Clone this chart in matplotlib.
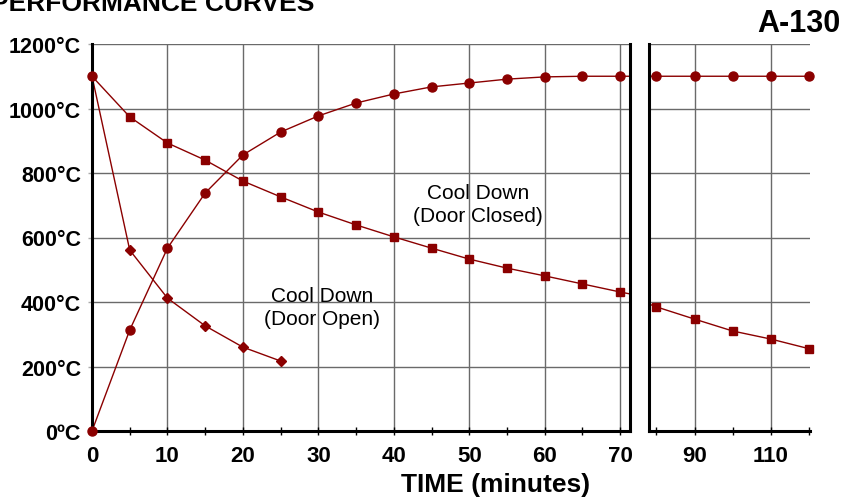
import numpy as np
import matplotlib.pyplot as plt

plt.rcParams['font.family'] = ['Liberation Sans', 'DejaVu Sans']

# readings
time = [0, 5, 10, 15, 20, 25, 30, 35, 40, 45, 50, 55, 60, 65, 70,
        80, 90, 100, 110, 120]
heat_up = [0, 313, 567, 738, 856, 927, 977, 1017, 1045, 1067, 1079, 1091,
           1098, 1100, 1100, 1100, 1100, 1100, 1100, 1100]
door_closed = [1100, 974, 893, 840, 775, 726, 679, 639, 602, 567, 533, 505,
               481, 456, 431, 385, 347, 310, 285, 255]
open_time = [0, 5, 10, 15, 20, 25]
door_open = [1100, 561, 412, 326, 260, 217]

y_ticks = [0, 200, 400, 600, 800, 1000, 1200]
y_labels = ['0ºC', '200°C', '400°C', '600°C', '800°C', '1000°C', '1200°C']

red = '#8b0000'
grid_c = '#6a6a6a'

fig = plt.figure(figsize=(8.46, 5.02), dpi=100)
ax1 = fig.add_axes([92 / 846, 70 / 502, 538 / 846, 387 / 502])
ax2 = fig.add_axes([649 / 846, 70 / 502, 161 / 846, 387 / 502])


def draw(ax, lo, hi):
    t = np.array(time)
    ax.plot(time, heat_up, color=red, lw=1, zorder=3)
    ax.plot(time, door_closed, color=red, lw=1, zorder=3)
    ax.plot(open_time, door_open, color=red, lw=1, zorder=3)
    ins = (t >= lo) & (t <= hi)
    hu = np.array(heat_up)
    dc = np.array(door_closed)
    ax.plot(t[ins], hu[ins], 'o', ms=6.5, color=red, clip_on=False, zorder=5)
    ins_c = ins.copy()
    ins_c[0] = False
    ax.plot(t[ins_c], dc[ins_c], 's', ms=5.8, color=red, clip_on=False, zorder=5)
    if ins[0]:
        ax.plot(t[:1], dc[:1], 'o', ms=6.5, color=red, clip_on=False, zorder=5)
        ax.plot(open_time[1:], door_open[1:], 'D', ms=5.5, color=red,
                clip_on=False, zorder=5)
    ax.set_xlim(lo, hi)
    ax.set_ylim(0, 1200)
    ax.set_yticks(y_ticks)
    ax.grid(True, which='major', color=grid_c, lw=1, zorder=1)
    ax.tick_params(axis='x', which='both', direction='inout', length=6,
                   width=1, color='black', labelsize=16, pad=7)
    ax.tick_params(axis='y', length=3, color='#aaaaaa', width=1)
    ax.spines['top'].set_visible(False)
    for s in ['left', 'bottom', 'right']:
        ax.spines[s].set_linewidth(2.2)
        ax.spines[s].set_zorder(4)


draw(ax1, 0, 71.3)
ax1.set_xticks(range(0, 71, 10))
ax1.set_xticks(range(5, 71, 10), minor=True)
ax1.set_xticklabels([str(v) for v in range(0, 71, 10)], fontweight='bold')
ax1.set_yticklabels(y_labels, fontsize=15.5, fontweight='bold')
ax1.tick_params(axis='y', pad=5)

draw(ax2, 78.1, 120.2)
ax2.set_xticks([90, 110])
ax2.set_xticks([80, 100, 120], minor=True)
ax2.set_xticklabels(['90', '110'], fontweight='bold')
ax2.set_yticklabels([])
ax2.tick_params(axis='y', length=0)
ax2.spines['right'].set_visible(False)

ax1.text(51.2, 703, 'Cool Down\n(Door Closed)', ha='center', va='center',
         fontsize=15, linespacing=1.25, zorder=6)
ax1.text(30.5, 384, 'Cool Down\n(Door Open)', ha='center', va='center',
         fontsize=15, linespacing=1.25, zorder=6)

fig.text(496 / 846, 1 - 485 / 502, 'TIME (minutes)', ha='center',
         va='center', fontsize=19, fontweight='bold')
fig.text(-9 / 846, 1 - 11 / 502, 'PERFORMANCE CURVES', ha='left',
         va='baseline', fontsize=19, fontweight='bold')
fig.text(840 / 846, 1 - 32 / 502, 'A-130', ha='right', va='baseline',
         fontsize=22, fontweight='bold')

fig.savefig('out.png', dpi=100)
